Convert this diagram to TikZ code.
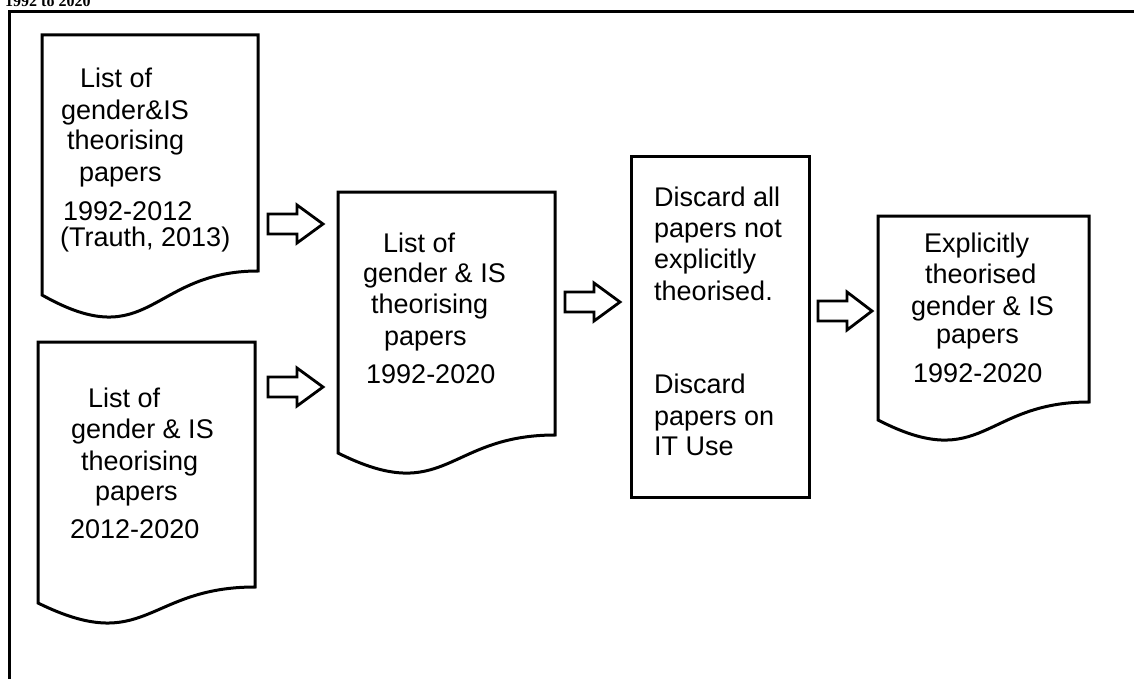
\documentclass[tikz,border=0pt]{standalone}
\usepackage{fontspec}
\setmainfont{Liberation Sans}
\newfontfamily\capfont{Liberation Serif}
\tikzset{
  shp/.style={draw=black,line width=3pt,fill=white,line join=miter},
  txt/.style={anchor=base west,inner sep=0pt,font=\fontsize{27}{31}\selectfont},
  barrow/.style={draw=black,line width=2.8pt,line join=miter,fill=white},
  pics/blockarrow/.style={code={
    \draw[barrow] (0,-10) -- (29,-10) -- (29,-19) -- (#1,0) -- (29,19) -- (29,10) -- (0,10) -- cycle;}},
}
\begin{document}
\begin{tikzpicture}[x=1pt,y=-1pt]
\useasboundingbox (0,0) rectangle (1134,679);
\clip (0,0) rectangle (1134,679);
% caption (cut off at top, as in the reference)
\node[anchor=base west,inner sep=0pt,font=\capfont\bfseries\fontsize{16}{18}\selectfont] (cap) at (5,6.5) {1992 to 2020};
% frame
\draw[line width=3pt] (9.5,700) -- (9.5,11.5) -- (1150,11.5);
% shapes
\draw[shp] (42,35) -- (258,35) -- (258,271) .. controls (150,271) and (150,356) .. (42,295) -- cycle;
\draw[shp] (38,342) -- (255,342) -- (255,587) .. controls (146,587) and (146,656) .. (38,603) -- cycle;
\draw[shp] (338,192) -- (555,192) -- (555,435) .. controls (446,435) and (446,507) .. (338,453) -- cycle;
\draw[shp] (631,157) rectangle (809,497);
\draw[shp] (878,216) -- (1089,216) -- (1089,402) .. controls (983,402) and (983,474) .. (878,420) -- cycle;
% arrows
\pic (a1) at (268,224) {blockarrow=55};
\pic (a2) at (268,387) {blockarrow=55};
\pic (a3) at (565,302) {blockarrow=55};
\pic (a4) at (818,311) {blockarrow=54};
% texts
\foreach \x/\y/\t [count=\i] in {
  80/88/{List of}, 61/120/{gender\&IS}, 67/150/{theorising}, 79/182/{papers},
  63/220/{1992-2012}, 60/246/{(Trauth, 2013)}}
  \node[txt] (d1t\i) at (\x,\y) {\t};
\foreach \x/\y/\t [count=\i] in {
  88/407/{List of}, 71/438/{gender \& IS}, 81/470/{theorising}, 95/500/{papers},
  70/538/{2012-2020}}
  \node[txt] (d2t\i) at (\x,\y) {\t};
\foreach \x/\y/\t [count=\i] in {
  383/252/{List of}, 363/282/{gender \& IS}, 371/313/{theorising}, 384/345/{papers},
  366/383/{1992-2020}}
  \node[txt] (d3t\i) at (\x,\y) {\t};
\foreach \y/\t [count=\i] in {
  207/{Discard all}, 237/{papers not}, 268/{explicitly}, 300/{theorised.},
  393/{Discard}, 425/{papers on}, 455/{IT Use}}
  \node[txt] (rt\i) at (654,\y) {\t};
\foreach \x/\y/\t [count=\i] in {
  924/252/{Explicitly}, 925/283/{theorised}, 911/315/{gender \& IS}, 936/343/{papers},
  913/382/{1992-2020}}
  \node[txt] (d4t\i) at (\x,\y) {\t};
\end{tikzpicture}
\end{document}
